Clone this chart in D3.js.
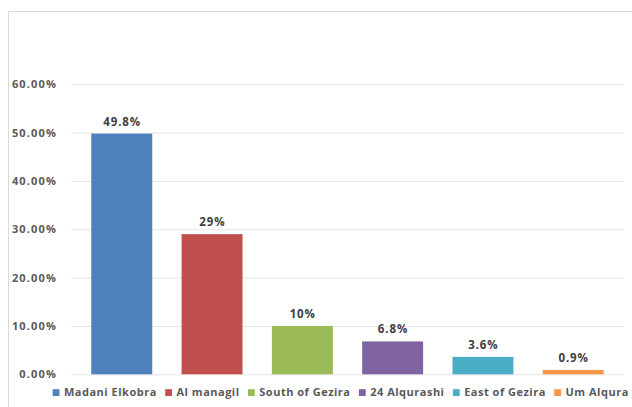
<!DOCTYPE html>
<html>
<head>
<meta charset="utf-8">
<script src="https://cdn.jsdelivr.net/npm/d3@7"></script>
<style>
  html, body { margin: 0; padding: 0; background: #fff; }
  svg { display: block; }
  text { font-family: "Open Sans", "DejaVu Sans", sans-serif; font-weight: 700; }
</style>
</head>
<body>
<svg id="chart" width="632" height="407"></svg>
<script>
// Share of cases by locality (%)
const categories = ["Madani Elkobra", "Al managil", "South of Gezira", "24 Alqurashi", "East of Gezira", "Um Alqura"];
const values = [49.8, 29, 10, 6.8, 3.6, 0.9];
const valueLabels = ["49.8%", "29%", "10%", "6.8%", "3.6%", "0.9%"];
const colors = ["#4F81BD", "#C0504D", "#9BBB59", "#8064A2", "#4BACC6", "#F79646"];
const yTicks = [0, 10, 20, 30, 40, 50, 60];

const plot = { left: 71, right: 624, top: 84.3, bottom: 374.3 };

const svg = d3.select("#chart");

// outer chart frame
svg.append("rect")
  .attr("x", 8.5).attr("y", 11.5)
  .attr("width", 700).attr("height", 500)
  .attr("fill", "#fff")
  .attr("stroke", "#d9d9d9").attr("stroke-width", 1);

const x = d3.scaleBand()
  .domain(categories)
  .range([plot.left, plot.right])
  .paddingInner(0.325)
  .paddingOuter(0.2245);

const y = d3.scaleLinear()
  .domain([0, 60])
  .range([plot.bottom, plot.top]);

// horizontal gridlines + tick labels
const yAxis = d3.axisLeft(y)
  .tickValues(yTicks)
  .tickSize(-(plot.right - plot.left))
  .tickPadding(14)
  .tickFormat(d => d.toFixed(2) + "%");

const gy = svg.append("g")
  .attr("transform", `translate(${plot.left},0)`)
  .call(yAxis);
gy.select(".domain").remove();
gy.selectAll(".tick line").attr("stroke", "#e6e6e6").attr("stroke-width", 1);
gy.selectAll(".tick text")
  .attr("fill", "#595959")
  .style("font-size", "11px")
  .style("letter-spacing", "1.15px");

// bars
svg.append("g").selectAll("rect")
  .data(values)
  .join("rect")
  .attr("x", (d, i) => x(categories[i]))
  .attr("y", d => y(d))
  .attr("width", x.bandwidth())
  .attr("height", d => y(0) - y(d))
  .attr("fill", (d, i) => colors[i]);

// value labels above bars
svg.append("g").selectAll("text")
  .data(values)
  .join("text")
  .attr("x", (d, i) => x(categories[i]) + x.bandwidth() / 2 + 0.4)
  .attr("y", d => y(d) - 8)
  .attr("text-anchor", "middle")
  .attr("fill", "#404040")
  .style("font-size", "11.5px")
  .style("letter-spacing", "0.9px")
  .text((d, i) => valueLabels[i]);

// legend
const legend = svg.append("g").attr("transform", "translate(52.7,392.6)");
let lx = 0;
categories.forEach((c, i) => {
  const g = legend.append("g").attr("transform", `translate(${lx},0)`);
  g.append("rect")
    .attr("x", 0).attr("y", -3.4)
    .attr("width", 6.8).attr("height", 6.8)
    .attr("fill", colors[i]);
  const t = g.append("text")
    .attr("x", 11.3).attr("y", 0)
    .attr("dy", "0.35em")
    .attr("fill", "#595959")
    .style("font-size", "11px")
    .style("letter-spacing", "0.5px")
    .text(c);
  lx += 11.3 + t.node().getComputedTextLength() + 8.4;
});
</script>
</body>
</html>
